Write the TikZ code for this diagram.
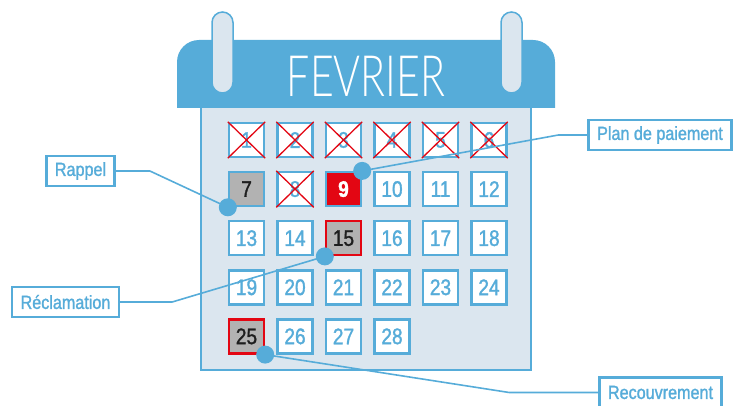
\documentclass[tikz,border=0pt]{standalone}
\usepackage{fontspec}
\setmainfont{Liberation Sans}[FakeStretch=0.85, FakeBold=1.3]
\newfontfamily\titlefont{Lato Light}[FakeStretch=0.72]
\usepackage{tikz}
\usetikzlibrary{calc,positioning}
\definecolor{calblue}{RGB}{86,172,217}
\definecolor{calpale}{RGB}{219,230,239}
\definecolor{calred}{RGB}{227,6,19}
\definecolor{calgray}{RGB}{178,178,178}
\definecolor{calink}{RGB}{30,30,30}
\tikzset{
  daybox/.style={draw=calblue, fill=white, line width=2.4pt, minimum width=35pt,
                 minimum height=34pt, inner sep=0pt, text=calblue,
                 font=\fontsize{22.5}{22}\selectfont},
  markday/.style={fill=calgray, text=calink},
  lateday/.style={fill=calgray, draw=calred, text=calink},
  payday/.style={fill=calred, text=white, font=\fontsize{22.5}{22}\selectfont\bfseries},
  xline/.style={calred, line width=1.3pt},
  ring/.style={draw=calblue, fill=calpale, line width=1.5pt, rounded corners=10.5pt},
  pdot/.style={circle, fill=calblue, minimum size=18pt, inner sep=0pt},
  link/.style={calblue, line width=1.6pt},
  tag/.style={draw=calblue, fill=white, line width=2.6pt, minimum height=30pt,
              inner xsep=8.5pt, text=calblue, font=\fontsize{19}{20}\selectfont},
}
\begin{document}
\begin{tikzpicture}[x=1pt,y=-1pt]
  \useasboundingbox (0,0) rectangle (738,406);
  % feuille du calendrier
  \draw[calblue, fill=calpale, line width=1.4pt] (201,100) rectangle (531,370);
  % bandeau du mois
  \fill[calblue] (177,108) [rounded corners=22pt] -- (177,40) -- (555,40)
    [sharp corners] -- (555,108) -- cycle;
  \node[text=white, font=\fontsize{57}{57}\selectfont\titlefont, anchor=base]
    (mois) at (366,97) {FEVRIER};
  % anneaux
  \draw[ring] (212,12) rectangle (233,93);
  \draw[ring] (501,12) rectangle (522,93);
  % grille des jours
  \foreach \d in {1,...,28}{
    \pgfmathtruncatemacro{\c}{mod(\d-1,6)}
    \pgfmathtruncatemacro{\r}{(\d-1)/6}
    \node[daybox] (d\d) at (246.5+48.5*\c, 140+49.1*\r) {\d};
  }
  % jours barres
  \foreach \d in {1,2,3,4,5,6,8}{
    \draw[xline] (d\d.north west) -- (d\d.south east);
    \draw[xline] (d\d.north east) -- (d\d.south west);
  }
  % jours marques
  \node[daybox, markday] at (d7) {7};
  \node[daybox, payday] at (d9) {9};
  \node[daybox, lateday] at (d15) {15};
  \node[daybox, lateday] at (d25) {25};
  % etiquettes
  \node[tag] (rappel) at (80.5,171) {Rappel};
  \node[tag] (reclam) at (65.5,302) {Réclamation};
  \node[tag] (plan) at (660,135) {Plan de paiement};
  \node[tag] (recouv) at (660.5,392.5) {Recouvrement};
  % liaisons
  \draw[link] (rappel.east) -- ++(34,0) -- (d7.south west);
  \draw[link] (reclam.east) -- ++(52,0) -- (d15.south west);
  \draw[link] (plan.west) -- ++(-29,0) -- (d9.north east);
  \draw[link] (recouv.west) -- ++(-89,0) -- (d25.south east);
  \node[pdot] (p7) at (d7.south west) {};
  \node[pdot] (p9) at (d9.north east) {};
  \node[pdot] (p15) at (d15.south west) {};
  \node[pdot] (p25) at (d25.south east) {};
\end{tikzpicture}
\end{document}
